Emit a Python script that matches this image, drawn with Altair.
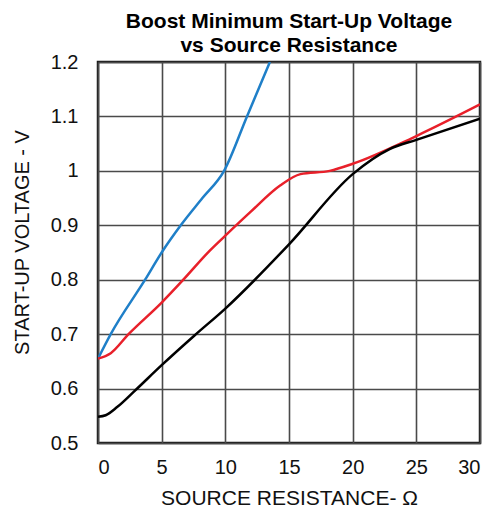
import altair as alt
import pandas as pd

# Blue curve
blue_x = [0, 1, 3.7, 5, 6.5, 8.2, 9.9, 11.7, 13.5]
blue_v = [0.655, 0.70, 0.80, 0.85, 0.90, 0.95, 1.0, 1.1, 1.2]

# Red curve
red_x = [0, 1, 2.4, 5, 6.7, 8.8, 10, 12, 14.3, 15.9, 18.2, 20, 25, 30]
red_v = [0.655, 0.665, 0.70, 0.758, 0.80, 0.854, 0.881, 0.925, 0.973, 0.994, 1.0, 1.013, 1.064, 1.122]

# Black curve
black_x = [0, 0.6, 1.5, 2.8, 5, 7.6, 10, 15, 20, 22.9, 25, 30]
black_v = [0.548, 0.551, 0.566, 0.594, 0.643, 0.698, 0.747, 0.865, 0.994, 1.04, 1.057, 1.096]

x_ticks = [0, 5, 10, 15, 20, 25, 30]
y_ticks = [0.5, 0.6, 0.7, 0.8, 0.9, 1.0, 1.1, 1.2]

series_names = ["blue", "red", "black"]
series_colors = ["#1f7fc8", "#e8202a", "#000000"]

rows = []
for name, xs, vs in [("blue", blue_x, blue_v), ("red", red_x, red_v), ("black", black_x, black_v)]:
    for i, (x, v) in enumerate(zip(xs, vs)):
        rows.append({"series": name, "r": x, "v": v, "order": i})
df = pd.DataFrame(rows)

FONT = "Liberation Sans"

chart = alt.Chart(df).mark_line(strokeWidth=2.5, interpolate="monotone", clip=True).encode(
    x=alt.X("r:Q", scale=alt.Scale(domain=[0, 30], nice=False),
            axis=alt.Axis(values=x_ticks, title="SOURCE RESISTANCE- Ω", format="d",
                          ticks=False, labelPadding=14, titlePadding=10, titleFontSize=21)),
    y=alt.Y("v:Q", scale=alt.Scale(domain=[0.5, 1.2], nice=False, zero=False),
            axis=alt.Axis(values=y_ticks, title="START-UP VOLTAGE - V", format="~g",
                          ticks=False, labelPadding=20, titlePadding=18, titleY=180)),
    color=alt.Color("series:N", scale=alt.Scale(domain=series_names, range=series_colors), legend=None),
    order="order:Q",
    detail="series:N",
).properties(
    width=382,
    height=381,
    title=alt.TitleParams(
        text=["Boost Minimum Start-Up Voltage", "vs Source Resistance"],
        font=FONT, fontSize=21, fontWeight="bold", lineHeight=24, anchor="middle",
        offset=-4, color="#000000",
    ),
    autosize=alt.AutoSizeParams(type="none"),
    padding={"left": 90, "top": 54, "right": 2, "bottom": 64},
).configure_view(
    stroke="#1a1a1a", strokeWidth=2.5,
).configure_axis(
    grid=True, gridColor="#4a4a4a", gridWidth=1.6, domain=False,
    labelFont=FONT, labelFontSize=20, labelColor="#111111",
    titleFont=FONT, titleFontSize=20, titleFontWeight="normal", titleColor="#111111",
)

chart.save("out.html", embed_options={"renderer": "svg", "actions": False})
